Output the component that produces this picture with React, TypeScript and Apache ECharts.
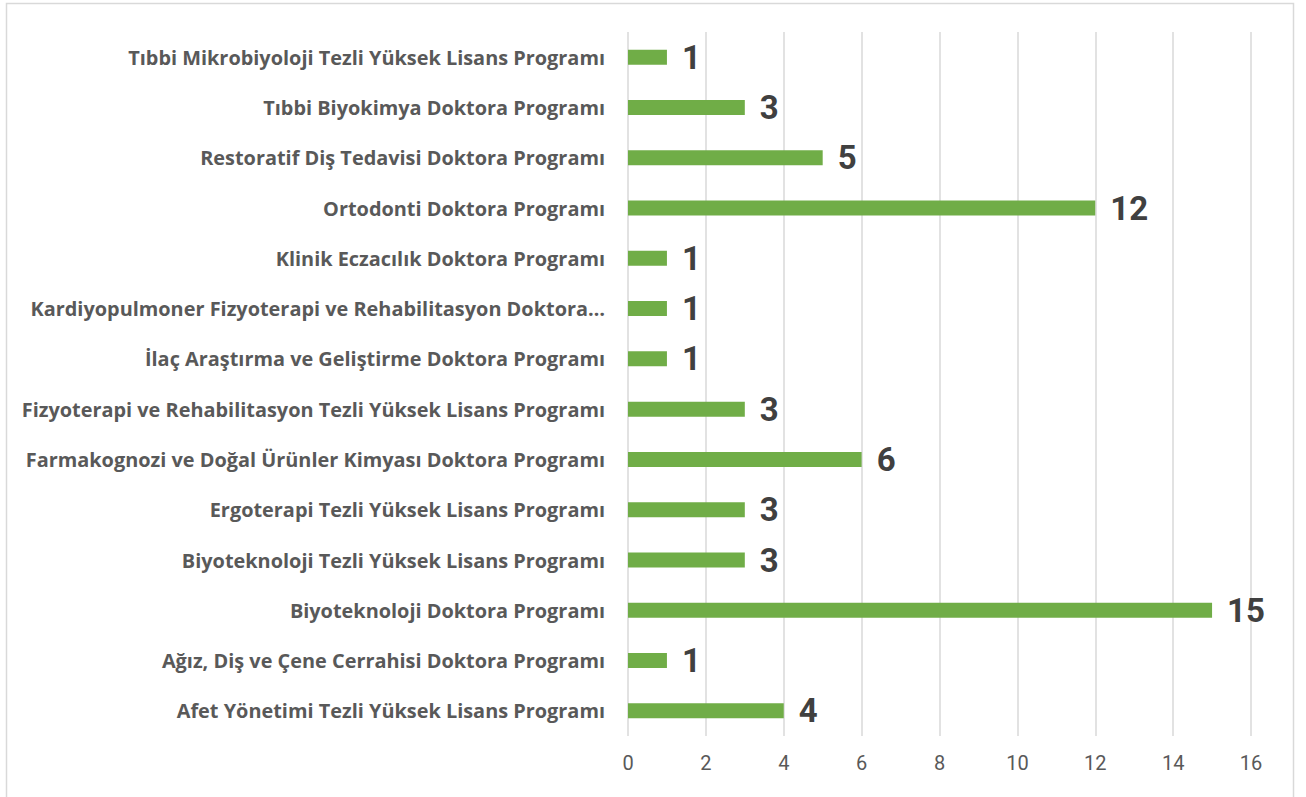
import React, { useEffect, useRef } from "react";
import * as echarts from "echarts";

const categories = [
  "Afet Yönetimi Tezli Yüksek Lisans Programı",
  "Ağız, Diş ve Çene Cerrahisi Doktora Programı",
  "Biyoteknoloji Doktora Programı",
  "Biyoteknoloji Tezli Yüksek Lisans Programı",
  "Ergoterapi Tezli Yüksek Lisans Programı",
  "Farmakognozi ve Doğal Ürünler Kimyası Doktora Programı",
  "Fizyoterapi ve Rehabilitasyon Tezli Yüksek Lisans Programı",
  "İlaç Araştırma ve Geliştirme Doktora Programı",
  "Kardiyopulmoner Fizyoterapi ve Rehabilitasyon Doktora…",
  "Klinik Eczacılık Doktora Programı",
  "Ortodonti Doktora Programı",
  "Restoratif Diş Tedavisi Doktora Programı",
  "Tıbbi Biyokimya Doktora Programı",
  "Tıbbi Mikrobiyoloji Tezli Yüksek Lisans Programı",
];

const values = [4, 1, 15, 3, 3, 6, 3, 1, 1, 1, 12, 5, 3, 1];

const xMin = 0;
const xMax = 16;
const xInterval = 2;

export default function App() {
  const ref = useRef<HTMLDivElement>(null);
  useEffect(() => {
    if (!ref.current) return;
    const chart = echarts.init(ref.current, undefined, { renderer: "svg" });
    chart.setOption({
      animation: false,
      backgroundColor: "#ffffff",
      graphic: [
        {
          type: "rect",
          shape: { x: 6.5, y: 3.5, width: 1287, height: 810 },
          style: { fill: "none", stroke: "#d9d9d9", lineWidth: 1.5 },
          silent: true,
        },
      ],
      grid: { left: 628, right: 55, top: 32, bottom: 61 },
      xAxis: {
        type: "value",
        min: xMin,
        max: xMax,
        interval: xInterval,
        axisLine: { show: false },
        axisTick: { show: false },
        splitLine: { show: true, lineStyle: { color: "#d9d9d9", width: 1.5 } },
        axisLabel: {
          color: "#595959",
          fontSize: 20,
          fontFamily: "Roboto",
          margin: 17,
        },
      },
      yAxis: {
        type: "category",
        data: categories,
        axisLine: { show: false },
        axisTick: { show: false },
        axisLabel: {
          color: "#595959",
          fontSize: 19.9,
          fontWeight: "bold",
          fontFamily: "Open Sans",
          margin: 23,
        },
      },
      series: [
        {
          type: "bar",
          data: values,
          barWidth: 15,
          itemStyle: { color: "#70ad47" },
          label: {
            show: true,
            position: "right",
            distance: 15,
            color: "#404040",
            fontSize: 33,
            fontWeight: "bold",
            fontFamily: "Roboto",
          },
        },
      ],
    });
    return () => chart.dispose();
  }, []);
  return (
    <div
      ref={ref}
      style={{ position: "fixed", left: 0, top: 0, width: 1306, height: 797 }}
    />
  );
}
